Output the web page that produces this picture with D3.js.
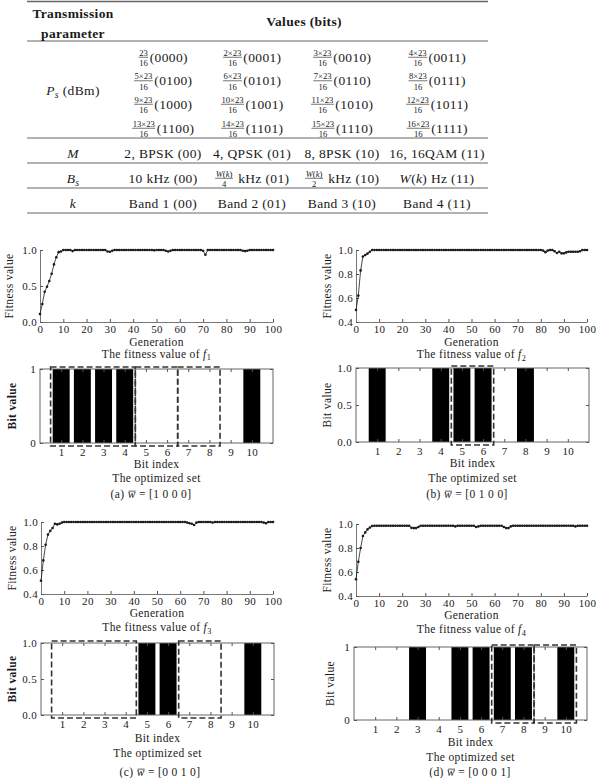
<!DOCTYPE html>
<html><head><meta charset="utf-8">
<script src="https://cdn.jsdelivr.net/npm/d3@7"></script>
<style>
body{margin:0;background:#fff;}
svg text{font-family:"Liberation Serif","Times New Roman",serif;fill:#1a1a1a;white-space:pre;letter-spacing:0.35px;}
</style></head><body>
<svg width="608" height="778"></svg>
<script>
// ---- table data ----
var headLeft = ["Transmission", "parameter"];
var headRight = "Values (bits)";
var psNumer = ["23","2×23","3×23","4×23","5×23","6×23","7×23","8×23",
               "9×23","10×23","11×23","12×23","13×23","14×23","15×23","16×23"];
var psDenom = "16";
var psCode = ["0000","0001","0010","0011","0100","0101","0110","0111",
              "1000","1001","1010","1011","1100","1101","1110","1111"];
var modRow = ["2, BPSK (00)", "4, QPSK (01)", "8, 8PSK (10)", "16, 16QAM (11)"];
var bwDen = [null, "4", "2", null];
var bwRest = ["10 kHz (00)", " kHz (01)", " kHz (10)", " Hz (11)"];
var bandRow = ["Band 1 (00)", "Band 2 (01)", "Band 3 (10)", "Band 4 (11)"];

// ---- fitness per generation (0..100) ----
var fitA = [
 0.11,0.25,0.42,0.49,0.57,0.67,0.80,0.90,0.97,0.98,
 1,1,1,1,0.985,1,1,1,1,1,
 1,1,1,1,1,1,1,1,1,0.98,
 0.975,0.99,1,1,1,1,1,1,1,1,
 1,1,1,1,1,1,1,1,1,0.995,
 1,1,1,1,0.99,0.98,0.99,1,1,1,
 1,1,1,1,1,1,1,1,1,1,
 0.99,0.935,1,1,1,1,1,1,1,1,
 1,1,1,1,1,1,1,0.99,0.985,0.99,
 1,1,1,1,1,1,1,1,1,1,
 1];
var fitB = [
 0.50,0.62,0.83,0.945,0.958,0.97,0.985,1,1,1,
 1,1,1,1,1,1,1,1,1,1,
 1,1,1,1,1,1,1,1,1,1,
 1,1,1,1,1,1,1,1,1,1,
 1,1,1,1,1,1,1,1,1,1,
 1,1,1,1,1,1,1,1,1,1,
 1,1,1,1,1,1,1,1,1,1,
 1,1,1,1,1,1,1,1,1,1,
 1,0.995,0.982,0.995,1,1,0.99,0.975,0.985,0.972,
 0.972,0.98,0.985,0.985,0.985,0.985,0.985,0.99,1,1,
 1];
var fitC = [
 0.51,0.68,0.81,0.895,0.926,0.95,0.986,0.98,0.985,0.995,
 1,1,1,1,1,1,1,1,1,1,
 1,1,1,1,1,1,1,1,1,1,
 1,1,1,1,1,1,1,1,1,1,
 1,1,1,1,1,1,1,1,1,1,
 1,1,1,1,1,1,1,1,1,1,
 1,1,1,0.995,0.99,0.985,0.975,0.995,1,1,
 1,1,1,1,0.995,1,1,1,1,1,
 1,1,1,1,1,1,1,1,1,1,
 1,1,1,1,1,1,0.995,0.99,1,1,
 1];
var fitD = [
 0.54,0.685,0.80,0.90,0.93,0.955,0.97,0.983,0.986,0.986,
 0.986,0.986,0.986,0.986,0.986,0.986,0.986,0.986,0.986,0.986,
 0.986,0.986,0.986,0.986,0.968,0.966,0.966,0.975,0.986,0.986,
 0.986,0.986,0.986,0.986,0.986,0.986,0.986,0.986,0.986,0.986,
 0.986,0.986,0.986,0.98,0.986,0.986,0.986,0.986,0.986,0.986,
 0.986,0.986,0.975,0.98,0.986,0.986,0.986,0.986,0.986,0.986,
 0.986,0.986,0.986,0.986,0.975,0.966,0.966,0.98,0.986,0.986,
 0.986,0.986,0.986,0.986,0.986,0.986,0.986,0.986,0.986,0.986,
 0.986,0.986,0.986,0.986,0.986,0.986,0.986,0.986,0.986,0.986,
 0.986,0.986,0.986,0.986,0.986,0.98,0.986,0.986,0.986,0.986,
 0.986];
var genTicks = [0,10,20,30,40,50,60,70,80,90,100];

// ---- optimized bit sets ----
var bitIndex = [1,2,3,4,5,6,7,8,9,10];
var bitsA = [1,1,1,1,0,0,0,0,0,1];
var bitsB = [1,0,0,1,1,1,0,1,0,0];
var bitsC = [0,0,0,0,1,1,0,0,0,1];
var bitsD = [0,0,1,0,1,1,1,1,0,1];
var groupsA = [[1,4],[5,6],[7,8]];
var groupsB = [[5,6]];
var groupsC = [[1,4],[7,8]];
var groupsD = [[7,8],[9,10]];
var panelTags = ["(a)","(b)","(c)","(d)"];
var weightVec = ["[1 0 0 0]","[0 1 0 0]","[0 0 1 0]","[0 0 0 1]"];

var svg = d3.select("svg");
var ink = "#1a1a1a";

// draws a row of text pieces (italic, subscripts, fractions) centred at cx,cy
function rich(parent, cx, cy, segs, size, weight) {
  var g = parent.append("g");
  var x = 0;
  segs.forEach(function(s) {
    if (s.n) {
      var fs = size * 0.64;
      var num = runs(g, s.n, fs, -size * 0.45);
      var den = runs(g, s.d, fs, size * 0.32);
      var w = Math.max(num.w, den.w) + 2;
      num.shift(x + (w - num.w) / 2);
      den.shift(x + (w - den.w) / 2);
      g.append("line").attr("x1", x + 0.5).attr("x2", x + w - 0.5)
        .attr("y1", -size * 0.33).attr("y2", -size * 0.33)
        .attr("stroke", ink).attr("stroke-width", 0.6);
      x += w + 1;
    } else {
      var t = g.append("text").attr("x", x).attr("y", s.sub ? size * 0.22 : 0)
        .style("font-size", (s.sub ? size * 0.72 : size) + "px")
        .style("font-style", s.i ? "italic" : "normal")
        .style("font-weight", weight || "normal")
        .text(s.t);
      var tw = t.node().getComputedTextLength();
      if (s.bar) {
        g.append("line").attr("x1", x + 1).attr("x2", x + tw)
          .attr("y1", -size * 0.6).attr("y2", -size * 0.6)
          .attr("stroke", ink).attr("stroke-width", 0.7);
      }
      x += tw;
    }
  });
  g.attr("transform", "translate(" + (cx - x / 2) + "," + (cy + size * 0.35) + ")");
  return g;
}

function runs(g, list, fs, y) {
  var els = [], x = 0;
  list.forEach(function(r) {
    var t = g.append("text").attr("x", x).attr("y", y)
      .style("font-size", fs + "px")
      .style("letter-spacing", "0px")
      .style("font-style", r.i ? "italic" : "normal")
      .text(r.t);
    els.push(t);
    x += t.node().getComputedTextLength();
  });
  return {w: x, shift: function(dx) {
    els.forEach(function(e) { e.attr("x", +e.attr("x") + dx); });
  }};
}

function vlabel(g, cx, cy, txt, size, weight) {
  var t = rich(g, 0, 0, [{t: txt}], size, weight);
  var w = t.node().getBBox().width;
  t.attr("transform", "translate(" + (cx + size * 0.35) + "," + (cy + w / 2) + ") rotate(-90)");
}

// ---------------- table ----------------
var table = svg.append("g");
var colX = [73, 163, 252, 342, 437];
var tSize = 13.5;

[[1.5, 1.4], [41, 1.2], [138, 1.1], [163, 1.1], [188, 1.1], [213, 1.2]].forEach(function(r) {
  table.append("line").attr("x1", 27).attr("x2", 488).attr("y1", r[0]).attr("y2", r[0])
    .attr("stroke", "#666").attr("stroke-width", r[1]);
});

rich(table, colX[0], 13, [{t: headLeft[0]}], 13.5, "bold");
rich(table, colX[0], 33, [{t: headLeft[1]}], 13.5, "bold");
rich(table, 304, 21, [{t: headRight}], 13.5, "bold");

var psRowY = [57, 80.5, 104, 128];
psNumer.forEach(function(nm, k) {
  var r = Math.floor(k / 4), c = k % 4;
  rich(table, colX[c + 1], psRowY[r],
    [{n: [{t: nm}], d: [{t: psDenom}]}, {t: "(" + psCode[k] + ")"}], tSize);
});
rich(table, colX[0], 90, [{t: "P", i: 1}, {t: "s", i: 1, sub: 1}, {t: " (dBm)"}], tSize);

rich(table, colX[0], 153, [{t: "M", i: 1}], tSize);
modRow.forEach(function(s, c) { rich(table, colX[c + 1], 153, [{t: s}], tSize); });

var wk = [{t: "W", i: 1}, {t: "("}, {t: "k", i: 1}, {t: ")"}];
rich(table, colX[0], 178, [{t: "B", i: 1}, {t: "s", i: 1, sub: 1}], tSize);
bwRest.forEach(function(s, c) {
  var segs;
  if (c === 0) segs = [{t: s}];
  else if (bwDen[c]) segs = [{n: wk, d: [{t: bwDen[c]}]}, {t: s}];
  else segs = [{t: "W", i: 1}, {t: "("}, {t: "k", i: 1}, {t: ")" + s}];
  rich(table, colX[c + 1], 178, segs, tSize);
});

rich(table, colX[0], 203, [{t: "k", i: 1}], tSize);
bandRow.forEach(function(s, c) { rich(table, colX[c + 1], 203, [{t: s}], tSize); });

// ---------------- panels ----------------
var labSize = 11.5;
var fitLayout = [
  {x0: 40, x1: 273, yTop: 250, yBot: 322, yMin: 0, yTicks: [0, 0.5, 1], labX: 9, genY: 341.5, titleY: 353.5},
  {x0: 356, x1: 587, yTop: 250, yBot: 322, yMin: 0.4, yTicks: [0.4, 0.6, 0.8, 1], labX: 327, genY: 341.5, titleY: 354},
  {x0: 41, x1: 273, yTop: 522, yBot: 594, yMin: 0.4, yTicks: [0.4, 0.6, 0.8, 1], labX: 12, genY: 613, titleY: 627},
  {x0: 356, x1: 587, yTop: 524, yBot: 596, yMin: 0.4, yTicks: [0.4, 0.6, 0.8, 1], labX: 327, genY: 615, titleY: 629}
];
var bitLayout = [
  {x0: 40, x1: 273, yTop: 369, yBot: 443, yTicks: [0, 1], fmt: "d", labX: 12, idxY: 464, setY: 478, capX: 151, capY: 494, bold: true},
  {x0: 356, x1: 589, yTop: 368, yBot: 442, yTicks: [0, 0.5, 1], fmt: ".1f", labX: 327, idxY: 463, setY: 478, capX: 467, capY: 494},
  {x0: 41, x1: 274, yTop: 643, yBot: 715, yTicks: [0, 0.5, 1], fmt: ".1f", labX: 12, idxY: 738, setY: 753, capX: 160, capY: 772, bold: true},
  {x0: 354, x1: 587, yTop: 647, yBot: 720, yTicks: [0, 1], fmt: "d", labX: 330, idxY: 742, setY: 757, capX: 470, capY: 772}
];
var fits = [fitA, fitB, fitC, fitD];
var bits = [bitsA, bitsB, bitsC, bitsD];
var groups = [groupsA, groupsB, groupsC, groupsD];

function styleAxis(a, fs) {
  a.select(".domain").attr("stroke", "#777");
  a.selectAll(".tick line").attr("stroke", "#555");
  a.selectAll(".tick text").style("font-size", fs + "px").attr("fill", ink);
}

function drawFitness(p, series, k) {
  var x = d3.scaleLinear().domain([0, 100]).range([p.x0, p.x1]);
  var y = d3.scaleLinear().domain([p.yMin, 1]).range([p.yBot, p.yTop]);
  var g = svg.append("g");

  var ax = g.append("g").attr("transform", "translate(0," + p.yBot + ")")
    .call(d3.axisBottom(x).tickValues(genTicks).tickSizeInner(-3).tickSizeOuter(0).tickPadding(3));
  styleAxis(ax, 11);
  var ay = g.append("g").attr("transform", "translate(" + p.x0 + ",0)")
    .call(d3.axisLeft(y).tickValues(p.yTicks).tickFormat(d3.format(".1f")).tickSizeInner(-3).tickSizeOuter(0).tickPadding(3));
  styleAxis(ay, 11);

  var line = d3.line().x(function(d, i) { return x(i); }).y(function(d) { return y(d); });
  g.append("path").datum(series).attr("d", line)
    .attr("fill", "none").attr("stroke", ink).attr("stroke-width", 0.8);
  g.selectAll("circle").data(series).enter().append("circle")
    .attr("cx", function(d, i) { return x(i); })
    .attr("cy", function(d) { return y(d); })
    .attr("r", 1.3).attr("fill", ink);

  var cx = (p.x0 + p.x1) / 2;
  rich(g, cx, p.genY, [{t: "Generation"}], labSize);
  rich(g, cx, p.titleY, [{t: "The fitness value of "}, {t: "f", i: 1}, {t: String(k + 1), sub: 1}], labSize);
  vlabel(g, p.labX, (p.yTop + p.yBot) / 2, "Fitness value", labSize);
}

function drawBits(p, vals, grp, k) {
  var x = d3.scaleLinear().domain([0, 11]).range([p.x0, p.x1]);
  var y = d3.scaleLinear().domain([0, 1]).range([p.yBot, p.yTop]);
  var g = svg.append("g");
  var bw = x(0.8) - x(0);

  g.selectAll(".bar").data(bitIndex.filter(function(d, i) { return vals[i] > 0; }))
    .enter().append("rect").attr("class", "bar")
    .attr("x", function(d) { return x(d) - bw / 2; })
    .attr("width", bw)
    .attr("y", y(1)).attr("height", y(0) - y(1))
    .attr("fill", "#000");

  g.append("rect").attr("x", p.x0).attr("y", p.yTop)
    .attr("width", p.x1 - p.x0).attr("height", p.yBot - p.yTop)
    .attr("fill", "none").attr("stroke", "#666").attr("stroke-width", 1);

  var ab = g.append("g").attr("transform", "translate(0," + p.yBot + ")")
    .call(d3.axisBottom(x).tickValues(bitIndex).tickSizeInner(-3).tickSizeOuter(0).tickPadding(5));
  styleAxis(ab, 11);
  ab.select(".domain").remove();
  var at = g.append("g").attr("transform", "translate(0," + p.yTop + ")")
    .call(d3.axisTop(x).tickValues(bitIndex).tickSizeInner(-3).tickSizeOuter(0).tickFormat(""));
  at.select(".domain").remove();
  at.selectAll(".tick line").attr("stroke", "#555");
  var al = g.append("g").attr("transform", "translate(" + p.x0 + ",0)")
    .call(d3.axisLeft(y).tickValues(p.yTicks).tickFormat(d3.format(p.fmt)).tickSizeInner(-3).tickSizeOuter(0).tickPadding(4));
  styleAxis(al, 11);
  al.select(".domain").remove();
  var ar = g.append("g").attr("transform", "translate(" + p.x1 + ",0)")
    .call(d3.axisRight(y).tickValues(p.yTicks).tickSizeInner(-3).tickSizeOuter(0).tickFormat(""));
  ar.select(".domain").remove();
  ar.selectAll(".tick line").attr("stroke", "#555");

  grp.forEach(function(r) {
    g.append("rect").attr("x", x(r[0] - 0.5)).attr("width", x(r[1] + 0.5) - x(r[0] - 0.5))
      .attr("y", y(1) - 2).attr("height", y(0) - y(1) + 5)
      .attr("fill", "none").attr("stroke", "#333").attr("stroke-width", 1.6)
      .attr("stroke-dasharray", "6,3");
  });

  var cx = (p.x0 + p.x1) / 2;
  rich(g, cx, p.idxY, [{t: "Bit index"}], labSize);
  rich(g, cx, p.setY, [{t: "The optimized set"}], labSize);
  rich(g, p.capX, p.capY, [{t: panelTags[k] + " "}, {t: "w", i: 1, bar: 1}, {t: " = " + weightVec[k]}], labSize);
  vlabel(g, p.labX, (p.yTop + p.yBot) / 2, "Bit value", labSize, p.bold ? "bold" : "normal");
}

fitLayout.forEach(function(p, k) { drawFitness(p, fits[k], k); });
bitLayout.forEach(function(p, k) { drawBits(p, bits[k], groups[k], k); });
</script>
</body></html>
